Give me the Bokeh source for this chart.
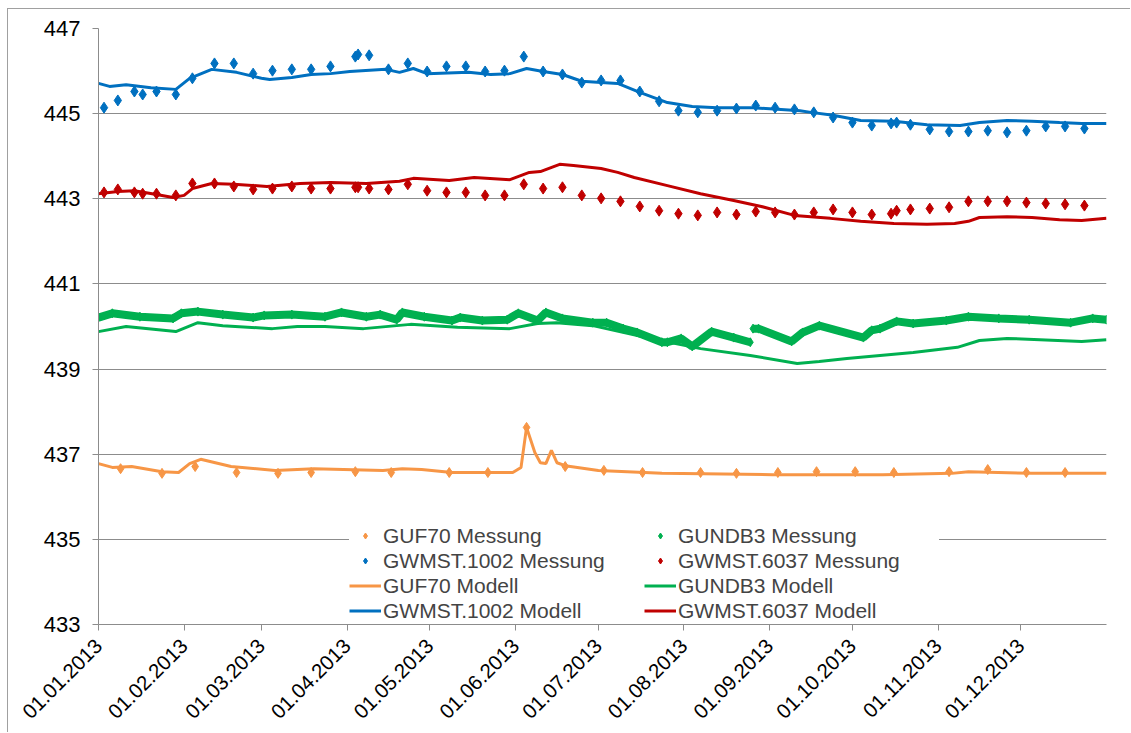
import math
import pandas as pd
from bokeh.plotting import figure
from bokeh.models import Range1d, FixedTicker, DatetimeTickFormatter, Legend, LegendItem
from bokeh.embed import file_html
from bokeh.resources import INLINE

# ---------------- data (day offset from 01.01.2013, value in m) ----------------
month_labels = ["01.01.2013", "01.02.2013", "01.03.2013", "01.04.2013", "01.05.2013", "01.06.2013",
                "01.07.2013", "01.08.2013", "01.09.2013", "01.10.2013", "01.11.2013", "01.12.2013"]
y_ticks = [433, 435, 437, 439, 441, 443, 445, 447]

gw_meas_days = [2, 7, 13, 16, 21, 28, 34, 42, 49, 56, 63, 70, 77, 84, 93, 94, 98, 105, 112, 119,
                126, 133, 140, 147, 154, 161, 168, 175, 182, 189, 196, 203, 210, 217, 224, 231, 238,
                245, 252, 259, 266, 273, 280, 287, 289, 294, 301, 308, 315, 322, 329, 336, 343, 350, 357]
gw1002_meas = [445.14, 445.31, 445.52, 445.45, 445.52, 445.45, 445.83, 446.18, 446.18, 445.94,
               446.01, 446.04, 446.04, 446.11, 446.34, 446.39, 446.37, 446.04, 446.18, 445.99,
               446.11, 446.11, 445.99, 446.01, 446.34, 445.99, 445.92, 445.73, 445.78, 445.78,
               445.52, 445.29, 445.07, 445.03, 445.07, 445.12, 445.19, 445.14, 445.10, 445.03,
               444.91, 444.79, 444.72, 444.77, 444.79, 444.74, 444.63, 444.58, 444.58, 444.60,
               444.56, 444.60, 444.70, 444.70, 444.65]
gw6037_meas = [443.15, 443.22, 443.15, 443.12, 443.12, 443.08, 443.36, 443.36, 443.29, 443.22,
               443.24, 443.29, 443.24, 443.24, 443.27, 443.27, 443.24, 443.22, 443.34, 443.19,
               443.15, 443.15, 443.08, 443.08, 443.34, 443.24, 443.27, 443.08, 443.01, 442.94,
               442.82, 442.72, 442.65, 442.61, 442.68, 442.63, 442.70, 442.68, 442.63, 442.68,
               442.75, 442.68, 442.63, 442.65, 442.72, 442.75, 442.77, 442.80, 442.94, 442.94,
               442.94, 442.91, 442.89, 442.87, 442.84]

gw1002_mod_days = [0, 4, 10, 19, 28, 33, 41, 50, 59, 62, 70, 77, 84, 91, 104, 109, 114, 119, 134,
                   142, 149, 155, 161, 168, 175, 182, 188, 196, 206, 215, 224, 237, 254, 258, 266,
                   276, 288, 300, 312, 319, 329, 338, 348, 356, 365]
gw1002_mod = [445.71, 445.64, 445.68, 445.61, 445.57, 445.83, 446.04, 445.97, 445.83, 445.80,
              445.85, 445.92, 445.94, 445.99, 446.04, 445.97, 446.06, 445.94, 445.97, 445.92,
              445.94, 446.06, 445.99, 445.92, 445.76, 445.73, 445.71, 445.50, 445.26, 445.17,
              445.14, 445.14, 445.07, 445.03, 444.96, 444.84, 444.82, 444.74, 444.72, 444.79,
              444.84, 444.82, 444.79, 444.77, 444.77]

gw6037_mod_days = [0, 7, 13, 21, 27, 31, 34, 41, 49, 61, 73, 84, 97, 109, 114, 127, 136, 149, 156,
                   160, 167, 172, 182, 188, 194, 206, 218, 230, 240, 252, 265, 276, 288, 300, 310,
                   315, 319, 329, 338, 348, 356, 365]
gw6037_mod = [443.12, 443.17, 443.19, 443.10, 443.03, 443.08, 443.24, 443.36, 443.34, 443.29,
              443.36, 443.38, 443.36, 443.41, 443.48, 443.43, 443.50, 443.45, 443.62, 443.64,
              443.81, 443.78, 443.71, 443.62, 443.50, 443.31, 443.12, 442.96, 442.82, 442.61,
              442.54, 442.47, 442.42, 442.40, 442.42, 442.47, 442.56, 442.58, 442.56, 442.51,
              442.49, 442.54]

gundb3_meas_days = [0, 5, 15, 27, 30, 36, 45, 56, 60, 70, 82, 88, 97, 102, 108, 110, 118, 128, 131,
                    139, 148, 152, 159, 162, 168, 179, 184, 190, 195, 204, 206, 211, 215, 222, 230,
                    236, 236.5, 237, 239, 251, 255, 261, 277, 280, 283, 289, 295, 307, 315, 326,
                    337, 352, 360, 365]
gundb3_meas = [440.21, 440.31, 440.23, 440.19, 440.31, 440.35, 440.28, 440.21, 440.26, 440.28,
               440.23, 440.33, 440.23, 440.28, 440.16, 440.33, 440.23, 440.14, 440.21, 440.14,
               440.16, 440.31, 440.14, 440.33, 440.19, 440.09, 440.09, 439.95, 439.86, 439.63,
               439.63, 439.72, 439.53, 439.88, 439.74, 439.63, float("nan"), 439.95, 439.95,
               439.65, 439.86, 440.02, 439.74, 439.91, 439.95, 440.12, 440.07, 440.14, 440.23,
               440.19, 440.16, 440.09, 440.19, 440.16]

gundb3_mod_days = [0, 10, 28, 36, 45, 63, 72, 82, 96, 113, 130, 149, 159, 166, 179, 200, 218, 236,
                   253, 261, 271, 295, 311, 319, 329, 356, 365]
gundb3_mod = [439.88, 440.00, 439.88, 440.09, 440.02, 439.95, 440.00, 440.00, 439.95, 440.05,
              439.98, 439.95, 440.07, 440.09, 440.02, 439.72, 439.48, 439.32, 439.13, 439.18,
              439.25, 439.39, 439.51, 439.67, 439.72, 439.65, 439.69]

guf70_meas_days = [8, 23, 35, 50, 65, 77, 93, 106, 127, 141, 155, 169, 183, 197, 218, 231, 246, 260,
                   274, 288, 308, 322, 336, 350]
guf70_meas = [436.66, 436.55, 436.71, 436.57, 436.55, 436.57, 436.59, 436.57, 436.57, 436.57,
              437.63, 436.71, 436.62, 436.57, 436.57, 436.55, 436.57, 436.59, 436.59, 436.57,
              436.59, 436.64, 436.57, 436.57]

guf70_mod_days = [0, 5, 12, 23, 29, 33, 37, 48, 64, 78, 103, 110, 117, 128, 150, 153, 155, 158,
                  160, 162, 164, 166, 169, 181, 204, 244, 284, 309, 315, 338, 365]
guf70_mod = [436.78, 436.69, 436.71, 436.59, 436.57, 436.78, 436.88, 436.71, 436.62, 436.66,
             436.62, 436.66, 436.64, 436.57, 436.57, 436.69, 437.63, 437.04, 436.80, 436.78,
             437.09, 436.80, 436.73, 436.62, 436.55, 436.52, 436.52, 436.55, 436.59, 436.55,
             436.55]

START = pd.Timestamp("2013-01-01")


def to_dt(days):
    return [START + pd.Timedelta(days=d) for d in days]


ORANGE, GREEN, BLUE, RED = "#F79646", "#00B050", "#0070C0", "#C00000"
GRID = "#8C8C8C"
FONT = "Liberation Sans"

p = figure(width=1123, height=724, x_axis_type="datetime", output_backend="svg",
           toolbar_location=None,
           x_range=Range1d(START, pd.Timestamp("2014-01-01")), y_range=Range1d(433, 447),
           min_border_left=90, min_border_top=19, min_border_right=25, min_border_bottom=109)
p.styles = {"margin-left": "7px", "margin-top": "8px",
            "border-left": "1px solid #A0A0A0", "border-top": "1px solid #A0A0A0"}
p.outline_line_color = None
p.xgrid.visible = False
p.ygrid.grid_line_color = GRID
p.ygrid.grid_line_width = 1

tick_ms = [int(pd.Timestamp(f"2013-{m:02d}-01").value // 10**6) for m in range(1, 13)]
p.xaxis.ticker = FixedTicker(ticks=tick_ms)
fmt = "%d.%m.%Y"
p.xaxis.formatter = DatetimeTickFormatter(milliseconds=fmt, seconds=fmt, minsec=fmt, minutes=fmt,
                                          hourmin=fmt, hours=fmt, days=fmt, months=fmt, years=fmt)
p.xaxis.major_label_orientation = math.pi / 4
p.yaxis.ticker = FixedTicker(ticks=y_ticks)

for ax in (p.xaxis[0], p.yaxis[0]):
    ax.axis_line_color = GRID
    ax.major_tick_line_color = GRID
    ax.major_tick_out = 6
    ax.major_tick_in = 0
    ax.minor_tick_line_color = None
    ax.major_label_text_font = FONT
    ax.major_label_text_color = "#000000"
p.xaxis.major_label_text_font_size = "20.5px"
p.xaxis.major_label_standoff = 12
p.yaxis.major_label_text_font_size = "22px"
p.yaxis.major_label_standoff = 12

r_guf_mod = p.line(to_dt(guf70_mod_days), guf70_mod, line_color=ORANGE, line_width=3)
r_gun_mod = p.line(to_dt(gundb3_mod_days), gundb3_mod, line_color=GREEN, line_width=3)
r_1002_mod = p.line(to_dt(gw1002_mod_days), gw1002_mod, line_color=BLUE, line_width=3)
r_6037_mod = p.line(to_dt(gw6037_mod_days), gw6037_mod, line_color=RED, line_width=3)

r_guf_meas = p.scatter(to_dt(guf70_meas_days), guf70_meas, marker="diamond", size=10,
                       fill_color=ORANGE, line_color=ORANGE)
p.line(to_dt(gundb3_meas_days), gundb3_meas, line_color=GREEN, line_width=8)
r_gun_meas = p.scatter(to_dt(gundb3_meas_days), gundb3_meas, marker="diamond", size=9,
                       fill_color=GREEN, line_color=GREEN)
r_1002_meas = p.scatter(to_dt(gw_meas_days), gw1002_meas, marker="diamond", size=11,
                        fill_color=BLUE, line_color=BLUE)
r_6037_meas = p.scatter(to_dt(gw_meas_days), gw6037_meas, marker="diamond", size=11,
                        fill_color=RED, line_color=RED)

# legend fills column by column: left column first, then right column
legend = Legend(items=[
    LegendItem(label="GUF70 Messung", renderers=[r_guf_meas]),
    LegendItem(label="GWMST.1002 Messung", renderers=[r_1002_meas]),
    LegendItem(label="GUF70 Modell", renderers=[r_guf_mod]),
    LegendItem(label="GWMST.1002 Modell", renderers=[r_1002_mod]),
    LegendItem(label="GUNDB3 Messung", renderers=[r_gun_meas]),
    LegendItem(label="GWMST.6037 Messung", renderers=[r_6037_meas]),
    LegendItem(label="GUNDB3 Modell", renderers=[r_gun_mod]),
    LegendItem(label="GWMST.6037 Modell", renderers=[r_6037_mod]),
], location=(251, 1), ncols=2)
legend.label_text_font = FONT
legend.label_text_font_size = "21px"
legend.label_height = 25
legend.glyph_height = 15
legend.glyph_width = 32
legend.label_standoff = 2
legend.label_width = 261
legend.spacing = 0
legend.padding = 4
legend.margin = 0
legend.border_line_color = None
legend.background_fill_color = "white"
legend.background_fill_alpha = 1.0
p.add_layout(legend, "center")

open("out.html", "w").write(file_html(p, INLINE))
